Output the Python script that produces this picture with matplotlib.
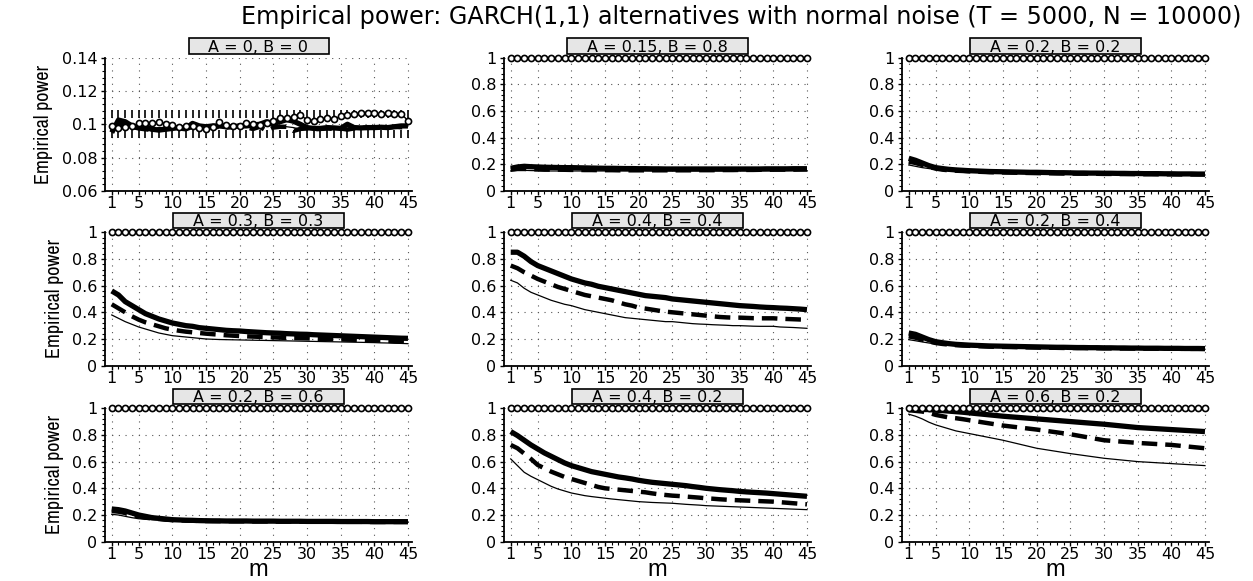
import matplotlib
matplotlib.use("Agg")
import matplotlib.pyplot as plt
from matplotlib.ticker import AutoMinorLocator, FixedLocator
from matplotlib.patches import Rectangle
from matplotlib import font_manager as fm

plt.rcParams['font.family'] = ['DejaVu Sans']

# ---------------- data ----------------
m = list(range(1, 46))
xticks = [1, 5, 10, 15, 20, 25, 30, 35, 40, 45]

titles = ["A = 0, B = 0", "A = 0.15, B = 0.8", "A = 0.2, B = 0.2",
          "A = 0.3, B = 0.3", "A = 0.4, B = 0.4", "A = 0.2, B = 0.4",
          "A = 0.2, B = 0.6", "A = 0.4, B = 0.2", "A = 0.6, B = 0.2"]

# 95% band around nominal size 0.1 (panel A = 0, B = 0)
band_lo = 0.0941
band_hi = 0.1059

circ_all_one = [1, 1, 1, 1, 1, 1, 1, 1, 1, 1, 1, 1, 1, 1, 1, 1, 1, 1, 1, 1, 1, 1, 1,
                1, 1, 1, 1, 1, 1, 1, 1, 1, 1, 1, 1, 1, 1, 1, 1, 1, 1, 1, 1, 1, 1]

# Panel 1: A = 0, B = 0
p1_circ = [.099, .098, .0985, .099, .1006, .1008, .1006, .1012, .1004, .0995, .0985, .0988,
           .0992, .0978, .0972, .0985, .1012, .0995, .099, .0992, .1005, .1, .0995, .1008,
           .1022, .104, .1035, .1042, .1058, .1025, .1022, .103, .1035, .1032, .1048, .1055,
           .106, .1068, .107, .1065, .106, .1065, .106, .1062, .1022]
p1_thick = [.095, .1025, .1015, .099, .098, .0985, .097, .0965, .097, .0975, .098, .0975,
            .1005, .099, .0985, .099, .099, .0985, .0985, .099, .099, .0995, .1, .1015,
            .1005, .1015, .1028, .1018, .1, .098, .0975, .0975, .098, .0978, .0975, .1,
            .098, .0978, .098, .098, .0982, .098, .0985, .099, .099]
p1_dash = [.097, .1, .099, .0985, .0975, .097, .0965, .097, .0972, .098, .0975, .097,
           .0985, .0982, .098, .098, .0985, .098, .0985, .099, .098, .0972, .0985, .096,
           .098, .0985, .0985, .096, .0972, .0975, .097, .0972, .0975, .0972, .0975, .0968,
           .0975, .098, .0978, .098, .0982, .098, .0985, .0982, .0985]
p1_thin = [.096, .099, .0985, .098, .0972, .0965, .096, .0965, .097, .0975, .098, .0978,
           .0985, .098, .0975, .098, .098, .0985, .0982, .0985, .0985, .098, .0988, .099,
           .0995, .099, .0985, .098, .097, .0968, .097, .0975, .0978, .0972, .0968, .0975,
           .098, .0978, .098, .0982, .0978, .0985, .098, .0985, .099]

# Panel 2: A = 0.15, B = 0.8
p2_thick = [.17, .18, .185, .182, .18, .178, .177, .176, .175, .175, .174, .173, .172, .171,
            .17, .17, .169, .168, .168, .167, .167, .166, .166, .165, .165, .165, .165, .165,
            .165, .165, .165, .165, .165, .165, .165, .165, .165, .165, .166, .166, .166,
            .166, .167, .167, .167]
p2_dash = [.16, .165, .165, .163, .162, .16, .16, .16, .159, .158, .158, .157, .157, .156,
           .156, .156, .155, .155, .155, .155, .155, .155, .155, .155, .155, .155, .155,
           .155, .156, .156, .156, .157, .157, .157, .158, .158, .158, .159, .159, .16, .16,
           .16, .16, .161, .162]
p2_thin = [.15, .155, .155, .153, .152, .151, .15, .15, .15, .15, .15, .15, .15, .15, .15,
           .15, .15, .15, .15, .15, .15, .15, .15, .15, .15, .15, .15, .15, .15, .15, .15,
           .15, .15, .15, .151, .151, .151, .151, .151, .152, .152, .152, .152, .152, .152]

# Panel 3: A = 0.2, B = 0.2
p3_thick = [.245, .23, .21, .19, .175, .168, .162, .158, .155, .152, .15, .148, .146, .145,
            .144, .143, .142, .141, .14, .14, .139, .138, .137, .137, .136, .135, .135, .134,
            .134, .133, .133, .132, .132, .131, .131, .13, .13, .13, .129, .129, .128, .128,
            .128, .127, .127]
p3_dash = [.22, .21, .195, .18, .168, .16, .155, .152, .15, .147, .145, .143, .141, .14,
           .139, .138, .137, .136, .135, .134, .133, .133, .132, .131, .131, .13, .13, .129,
           .129, .128, .128, .127, .127, .127, .126, .126, .126, .125, .125, .125, .125,
           .124, .124, .124, .124]
p3_thin = [.195, .185, .175, .168, .16, .155, .15, .147, .145, .142, .14, .138, .136, .135,
           .134, .133, .132, .131, .13, .129, .128, .128, .127, .127, .126, .126, .125,
           .125, .124, .124, .124, .123, .123, .123, .122, .122, .122, .121, .121, .121,
           .121, .12, .12, .12, .12]

# Panel 4: A = 0.3, B = 0.3
p4_thick = [.56, .53, .48, .45, .42, .39, .37, .35, .335, .32, .31, .30, .295, .285, .28,
            .275, .27, .265, .262, .26, .256, .253, .25, .247, .245, .243, .24, .238, .236,
            .235, .232, .23, .228, .226, .224, .222, .22, .218, .216, .214, .212, .21, .208,
            .206, .205]
p4_dash = [.46, .43, .40, .37, .345, .325, .31, .295, .28, .27, .262, .255, .25, .245, .24,
           .236, .232, .228, .225, .222, .22, .218, .216, .214, .212, .21, .208, .207, .206,
           .205, .203, .201, .2, .198, .197, .195, .194, .192, .191, .19, .188, .186, .184,
           .182, .18]
p4_thin = [.38, .355, .33, .31, .29, .275, .26, .245, .235, .225, .22, .215, .21, .205, .20,
           .198, .196, .195, .194, .193, .192, .191, .19, .189, .188, .187, .186, .185, .184,
           .183, .182, .181, .18, .179, .178, .177, .176, .175, .174, .173, .171, .17, .168,
           .167, .165]

# Panel 5: A = 0.4, B = 0.4
p5_thick = [.85, .85, .82, .78, .75, .73, .71, .69, .67, .65, .635, .62, .61, .595, .585,
            .575, .565, .555, .545, .535, .525, .52, .515, .51, .50, .495, .49, .485, .48,
            .475, .47, .465, .46, .455, .45, .447, .444, .44, .437, .435, .432, .43, .427,
            .424, .42]
p5_dash = [.75, .73, .70, .675, .65, .63, .61, .59, .575, .56, .545, .53, .52, .51, .50,
           .49, .475, .46, .45, .435, .428, .42, .412, .405, .40, .395, .39, .385, .38, .375,
           .37, .365, .362, .36, .36, .358, .356, .355, .355, .355, .352, .35, .348, .346,
           .345]
p5_thin = [.64, .62, .58, .55, .53, .51, .49, .475, .46, .45, .435, .42, .41, .40, .39, .38,
           .37, .36, .355, .35, .345, .34, .335, .33, .33, .325, .32, .315, .312, .31, .307,
           .305, .303, .30, .30, .298, .296, .295, .295, .295, .29, .288, .286, .283, .28]

# Panel 6: A = 0.2, B = 0.4
p6_thick = [.245, .235, .215, .195, .18, .172, .165, .16, .157, .154, .152, .15, .148, .147,
            .146, .145, .144, .143, .142, .141, .14, .139, .138, .138, .137, .136, .136,
            .135, .135, .134, .134, .133, .133, .132, .132, .131, .131, .131, .13, .13, .13,
            .129, .129, .129, .128]
p6_dash = [.22, .21, .195, .182, .17, .163, .158, .154, .151, .149, .147, .145, .143, .142,
           .141, .14, .139, .138, .137, .136, .135, .135, .134, .133, .133, .132, .132,
           .131, .131, .13, .13, .129, .129, .129, .128, .128, .128, .127, .127, .127,
           .127, .126, .126, .126, .126]
p6_thin = [.195, .187, .178, .17, .162, .157, .153, .15, .147, .145, .143, .141, .139, .138,
           .137, .136, .135, .134, .133, .132, .131, .131, .13, .13, .129, .129, .128, .128,
           .127, .127, .127, .126, .126, .126, .125, .125, .125, .124, .124, .124, .124,
           .123, .123, .123, .123]

# Panel 7: A = 0.2, B = 0.6
p7_thick = [.245, .24, .23, .215, .20, .19, .18, .175, .17, .165, .163, .161, .16, .158,
            .157, .156, .156, .155, .155, .155, .155, .154, .154, .154, .154, .153, .153,
            .153, .153, .152, .152, .152, .152, .152, .151, .151, .151, .151, .151, .15, .15,
            .15, .15, .15, .15]
p7_dash = [.23, .225, .215, .20, .19, .18, .175, .17, .165, .162, .16, .158, .157, .156,
           .155, .155, .154, .154, .153, .153, .153, .152, .152, .152, .151, .151, .151,
           .151, .15, .15, .15, .15, .15, .149, .149, .149, .149, .149, .148, .148, .148,
           .148, .148, .148, .148]
p7_thin = [.205, .20, .19, .18, .172, .168, .165, .162, .158, .155, .154, .153, .152, .152,
           .151, .151, .15, .15, .15, .149, .149, .149, .148, .148, .148, .148, .147, .147,
           .147, .147, .147, .146, .146, .146, .146, .146, .146, .145, .145, .145, .145,
           .145, .145, .145, .145]

# Panel 8: A = 0.4, B = 0.2
p8_thick = [.825, .795, .76, .725, .695, .665, .64, .615, .59, .57, .555, .54, .525, .515,
            .505, .495, .485, .478, .47, .46, .452, .445, .44, .435, .43, .425, .42, .413,
            .407, .40, .395, .39, .386, .382, .377, .373, .37, .367, .364, .36, .356, .352,
            .348, .344, .34]
p8_dash = [.725, .70, .66, .62, .575, .55, .525, .505, .485, .47, .455, .44, .425, .41, .40,
           .395, .39, .385, .38, .375, .37, .362, .355, .35, .345, .342, .338, .334, .33,
           .325, .322, .318, .315, .312, .31, .308, .306, .304, .302, .30, .296, .292, .288,
           .284, .28]
p8_thin = [.62, .57, .52, .49, .465, .44, .415, .395, .38, .365, .355, .345, .338, .332,
           .326, .32, .315, .31, .305, .30, .297, .294, .292, .29, .288, .284, .28, .277,
           .274, .27, .268, .266, .264, .262, .26, .258, .256, .254, .252, .25, .248, .246,
           .244, .242, .24]

# Panel 9: A = 0.6, B = 0.2
p9_thick = [.995, .995, .99, .99, .985, .982, .978, .974, .97, .965, .96, .955, .95, .945,
            .94, .936, .932, .928, .924, .92, .916, .912, .908, .904, .90, .896, .892, .888,
            .884, .88, .875, .87, .865, .86, .855, .852, .849, .846, .843, .84, .837, .834,
            .831, .828, .825]
p9_dash = [.985, .98, .975, .965, .95, .94, .93, .925, .918, .91, .902, .894, .886, .878,
           .87, .864, .858, .852, .846, .84, .833, .826, .819, .812, .805, .796, .787, .778,
           .769, .76, .756, .752, .748, .744, .74, .737, .734, .731, .728, .725, .72, .715,
           .71, .705, .70]
p9_thin = [.955, .94, .92, .895, .875, .86, .845, .83, .82, .81, .80, .79, .78, .77, .76,
           .748, .736, .724, .712, .70, .692, .684, .676, .668, .66, .653, .646, .639, .632,
           .625, .62, .615, .61, .605, .60, .597, .594, .591, .588, .585, .582, .579, .576,
           .573, .57]

panels = [
    (p1_circ, p1_thick, p1_dash, p1_thin),
    (circ_all_one, p2_thick, p2_dash, p2_thin),
    (circ_all_one, p3_thick, p3_dash, p3_thin),
    (circ_all_one, p4_thick, p4_dash, p4_thin),
    (circ_all_one, p5_thick, p5_dash, p5_thin),
    (circ_all_one, p6_thick, p6_dash, p6_thin),
    (circ_all_one, p7_thick, p7_dash, p7_thin),
    (circ_all_one, p8_thick, p8_dash, p8_thin),
    (circ_all_one, p9_thick, p9_dash, p9_thin),
]

# ---------------- figure ----------------
W, H = 1253, 581
fig = plt.figure(figsize=(W / 100, H / 100), dpi=100)

col_left = [105, 504, 902]
row_bottom = [191, 365.7, 541.7]
ax_w = 307
ax_h = 133.5

# condensed font for the y labels, if one is installed
narrow_fp = None
for f in fm.fontManager.ttflist:
    nm = f.name.lower()
    if ('narrow' in nm or 'condensed' in nm) and 'mono' not in nm and 'serif' not in nm:
        if f.weight in (400, 'normal', 'regular') and f.style == 'normal':
            narrow_fp = f.fname
            break

tick_fs = 11.5
title_texts = []
for i, (circ, thick, dash, thin) in enumerate(panels):
    r, c = divmod(i, 3)
    ax = fig.add_axes([col_left[c] / W, 1 - row_bottom[r] / H, ax_w / W, ax_h / H])
    if i == 0:
        ax.plot(m, [band_hi] * len(m), linestyle='none', marker='|', color='black',
                markersize=6, mew=1.2, zorder=2)
        ax.plot(m, [band_lo] * len(m), linestyle='none', marker='|', color='black',
                markersize=6, mew=1.2, zorder=2)
    ax.plot(m, thin, color='black', lw=0.9, zorder=3)
    ax.plot(m, dash, color='black', lw=3.2, linestyle=(0, (3.5, 1.8)), zorder=3)
    ax.plot(m, thick, color='black', lw=3.8, zorder=3, solid_capstyle='butt')
    ax.plot(m, circ, color='black', lw=1.0, marker='o', markersize=4.4, mfc='white',
            mec='black', mew=1.2, zorder=5, clip_on=False)

    ax.set_xlim(0, 45.6)
    if i == 0:
        ax.set_ylim(0.06, 0.14)
        ax.set_yticks([0.06, 0.08, 0.1, 0.12, 0.14])
        ax.set_yticklabels(["0.06", "0.08", "0.1", "0.12", "0.14"])
    else:
        ax.set_ylim(0, 1)
        ax.set_yticks([0, 0.2, 0.4, 0.6, 0.8, 1])
        ax.set_yticklabels(["0", "0.2", "0.4", "0.6", "0.8", "1"])
    ax.set_xticks(xticks)
    ax.set_xticklabels([str(t) for t in xticks])
    ax.xaxis.set_minor_locator(FixedLocator(m))
    ax.yaxis.set_minor_locator(AutoMinorLocator(5))
    ax.tick_params(axis='both', which='major', direction='out', length=3, width=1,
                   labelsize=tick_fs)
    ax.tick_params(axis='x', which='major', pad=0.8)
    ax.tick_params(axis='y', which='major', pad=2.5)
    ax.tick_params(axis='both', which='minor', direction='out', length=2, width=0.8)
    for s in ['top', 'right']:
        ax.spines[s].set_visible(False)
    for s in ['left', 'bottom']:
        ax.spines[s].set_linewidth(1.3)
    ax.grid(True, which='major', color='#555555', linestyle=(0, (1, 5)), lw=0.8)
    ax.set_axisbelow(True)

    # panel title: baseline a few px above the axes top
    top_px = H - (row_bottom[r] - ax_h)
    t = fig.text((col_left[c] + ax_w / 2) / W, (top_px + 5.8) / H, titles[i],
                 ha='center', va='baseline', fontsize=11.5, zorder=11)
    title_texts.append((t, top_px))

    if c == 0:
        if narrow_fp:
            ax.set_ylabel("Empirical power",
                          fontproperties=fm.FontProperties(fname=narrow_fp, size=14.5),
                          labelpad=6)
        else:
            ax.set_ylabel("Empirical power", family='Liberation Sans', fontsize=13,
                          labelpad=6)
    if r == 2:
        ax.set_xlabel("m", fontsize=17, family='Liberation Sans', labelpad=-2.5)

fig.text(741 / W, 0.971,
         "Empirical power: GARCH(1,1) alternatives with normal noise (T = 5000, N = 10000)",
         ha='center', va='center', fontsize=17.2)

# boxes behind the panel titles
fig.canvas.draw()
rend = fig.canvas.get_renderer()
for t, top_px in title_texts:
    bb = t.get_window_extent(rend)
    x0 = bb.x0 - 20
    w = bb.width + 40
    y0 = top_px + 4
    h = 15.5
    fig.add_artist(Rectangle((x0 / W, y0 / H), w / W, h / H, transform=fig.transFigure,
                             facecolor='#e6e6e6', edgecolor='black', lw=1.2, zorder=10))

fig.savefig("out.png", dpi=100)
